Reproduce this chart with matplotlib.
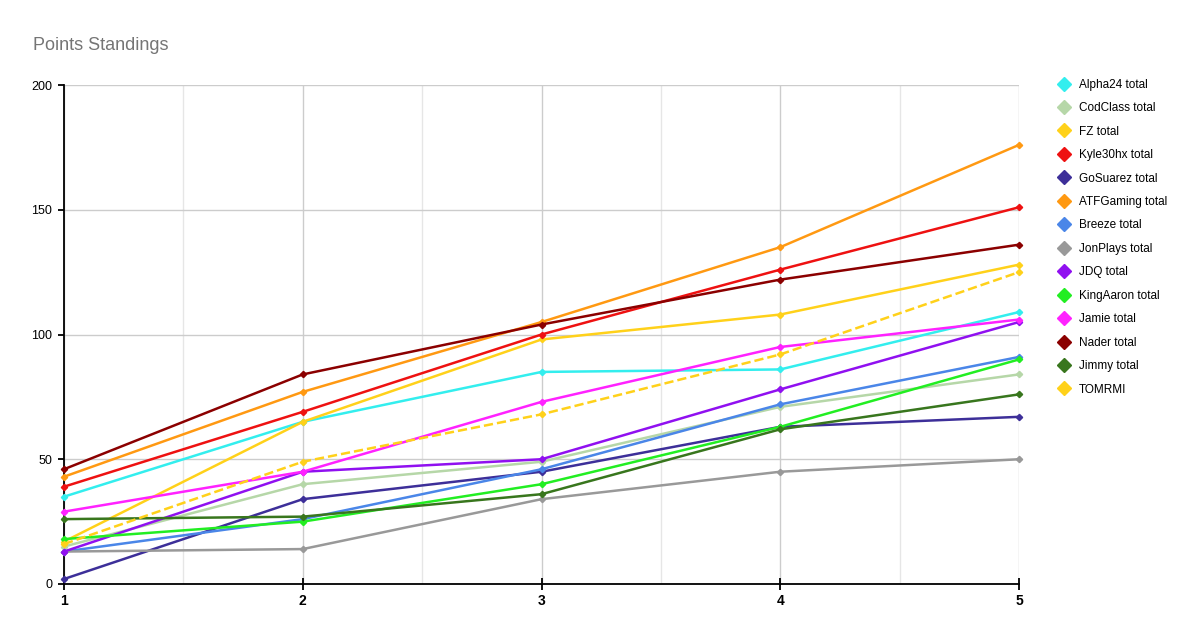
import matplotlib.pyplot as plt
from matplotlib.lines import Line2D

plt.rcParams['font.family'] = ['Liberation Sans', 'DejaVu Sans']

rounds = [1, 2, 3, 4, 5]

alpha24 = [35, 65, 85, 86, 109]
codclass = [15, 40, 49, 71, 84]
fz = [17, 65, 98, 108, 128]
kyle30hx = [39, 69, 100, 126, 151]
gosuarez = [2, 34, 45, 63, 67]
atfgaming = [43, 77, 105, 135, 176]
breeze = [13, 26, 46, 72, 91]
jonplays = [13, 14, 34, 45, 50]
jdq = [13, 45, 50, 78, 105]
kingaaron = [18, 25, 40, 63, 90]
jamie = [29, 45, 73, 95, 106]
nader = [46, 84, 104, 122, 136]
jimmy = [26, 27, 36, 62, 76]
tomrmi = [16, 49, 68, 92, 125]

names = ['Alpha24 total', 'CodClass total', 'FZ total', 'Kyle30hx total',
         'GoSuarez total', 'ATFGaming total', 'Breeze total', 'JonPlays total',
         'JDQ total', 'KingAaron total', 'Jamie total', 'Nader total',
         'Jimmy total', 'TOMRMI']
series = [alpha24, codclass, fz, kyle30hx, gosuarez, atfgaming, breeze,
          jonplays, jdq, kingaaron, jamie, nader, jimmy, tomrmi]
colors = ['#33EEEE', '#B6D7A8', '#FFD11A', '#EE1111', '#3D2F99', '#FF9912',
          '#4A86E8', '#999999', '#9010F0', '#22EE22', '#FF22FF', '#8B0000',
          '#38761D', '#FFD11A']

fig = plt.figure(figsize=(12, 6.42), dpi=100)
ax = fig.add_axes([64/1200, 1 - 584/642, (1019-64)/1200, (584-85)/642])

for name, vals, c in zip(names, series, colors):
    ls = '--' if name == 'TOMRMI' else '-'
    ax.plot(rounds, vals, color=c, lw=1.8, ls=ls, marker='D', markersize=3.2,
            clip_on=False, zorder=3)

ax.set_xlim(1, 5)
ax.set_ylim(0, 200)
ax.set_yticks([0, 50, 100, 150, 200])
ax.set_xticks(rounds)
ax.set_xticks([1.5, 2.5, 3.5, 4.5], minor=True)
ax.grid(True, which='major', color='#cccccc', lw=1)
ax.grid(True, which='minor', axis='x', color='#e6e6e6', lw=1)
ax.set_axisbelow(True)

for s in ['top', 'right']:
    ax.spines[s].set_visible(False)
ax.spines['left'].set_color('black')
ax.spines['bottom'].set_color('black')
ax.spines['left'].set_linewidth(1.3)
ax.spines['bottom'].set_linewidth(1.3)

ax.tick_params(axis='y', direction='out', length=4.5, width=1.3, labelsize=9,
               pad=4, colors='black')
ax.tick_params(axis='x', which='major', direction='inout', length=8.5,
               width=1.3, labelsize=10, pad=3)
ax.tick_params(axis='x', which='minor', length=0)
for lab in ax.get_xticklabels():
    lab.set_fontweight('bold')

fig.text(33/1200, 1 - 45/642, 'Points Standings', fontsize=13, color='#757575',
         va='center', ha='left')

handles = [Line2D([], [], color=c, marker='D', ls='none', markersize=7)
           for c in colors]
fig.legend(handles, names, loc='upper left', bbox_to_anchor=(1053/1200, 1 - 74/642),
           frameon=False, fontsize=8.5, labelspacing=0.97, handlelength=1,
           handletextpad=0.8, borderaxespad=0)

fig.savefig('out.png', dpi=100)
